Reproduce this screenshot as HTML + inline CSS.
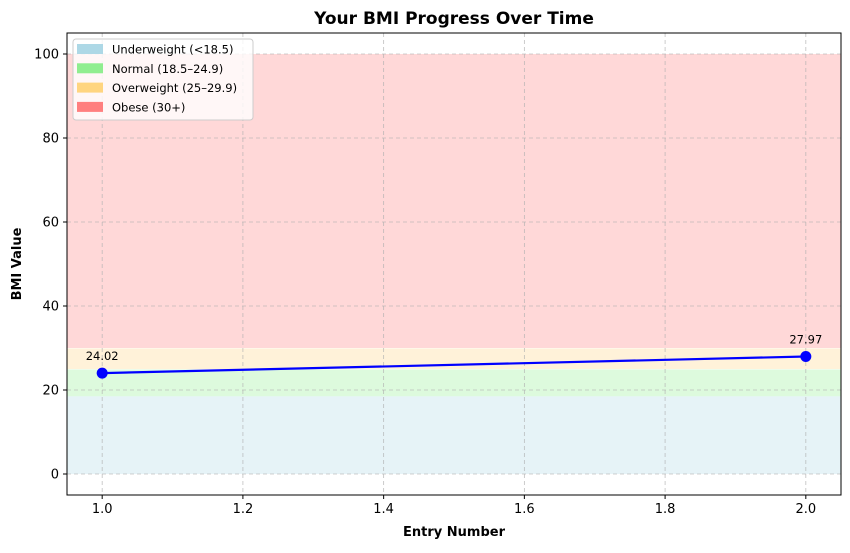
<!DOCTYPE html>
<html><head><meta charset="utf-8"><style>
body{margin:0;background:#fff;font-family:"Liberation Sans","DejaVu Sans",sans-serif}
svg text{font-family:"DejaVu Sans","Liberation Sans",sans-serif}
</style></head><body>
<svg id="c" width="850" height="548" xmlns="http://www.w3.org/2000/svg"></svg>
<script>
const entries=[1,2];
const bmiValues=[24.02,27.97];
const xTicks=[1.0,1.2,1.4,1.6,1.8,2.0];
const yTicks=[0,20,40,60,80,100];
const bandNames=["Underweight (<18.5)","Normal (18.5–24.9)","Overweight (25–29.9)","Obese (30+)"];
const bandLow=[0,18.5,25,30];
const bandHigh=[18.5,24.9,29.9,100];
const bandColors=["#add8e6","#90ee90","#ffd580","#ff7f7f"];
const L=67,R=841,T=33,B=495,x0=0.95,x1=2.05,y0=-5,y1=105;
const X=v=>L+(v-x0)/(x1-x0)*(R-L);
const Y=v=>B-(v-y0)/(y1-y0)*(B-T);
const svg=document.getElementById('c');
const NS="http://www.w3.org/2000/svg";
function mk(t,a,txt){const e=document.createElementNS(NS,t);for(const k in a)e.setAttribute(k,a[k]);if(txt!==undefined)e.textContent=txt;svg.appendChild(e);return e;}
bandNames.forEach((n,i)=>{
 const r=mk('rect',{x:L,y:Y(bandHigh[i]),width:R-L,height:Y(bandLow[i])-Y(bandHigh[i]),fill:bandColors[i],'fill-opacity':0.3});
 
 
});
xTicks.forEach(t=>{
 const g=mk('line',{x1:X(t),x2:X(t),y1:T,y2:B,stroke:'#b0b0b0','stroke-dasharray':'4,3','stroke-width':0.8,'stroke-opacity':0.8});
 
 mk('line',{x1:X(t),x2:X(t),y1:B,y2:B+4,stroke:'#000'});
 const l=mk('text',{x:X(t),y:B+18,'text-anchor':'middle','font-size':13},t.toFixed(1));
 
});
yTicks.forEach(t=>{
 const g=mk('line',{x1:L,x2:R,y1:Y(t),y2:Y(t),stroke:'#b0b0b0','stroke-dasharray':'4,3','stroke-width':0.8,'stroke-opacity':0.8});
 
 mk('line',{x1:L-4,x2:L,y1:Y(t),y2:Y(t),stroke:'#000'});
 const l=mk('text',{x:L-8,y:Y(t)+4.5,'text-anchor':'end','font-size':13},String(t));
 
});
const pl=mk('polyline',{points:entries.map((e,i)=>X(e)+','+Y(bmiValues[i])).join(' '),fill:'none',stroke:'#0000ff','stroke-width':2.2});

entries.forEach((e,i)=>{
 const c=mk('circle',{cx:X(e),cy:Y(bmiValues[i]),r:5.5,fill:'#0000ff'});
 
 const t=mk('text',{x:X(e),y:Y(bmiValues[i])-13,'text-anchor':'middle','font-size':11.5},bmiValues[i].toFixed(2));
 
});
const fr=mk('rect',{x:L,y:T,width:R-L,height:B-T,fill:'none',stroke:'#000','stroke-width':1});

const lg=mk('rect',{x:73,y:39,width:180,height:81,rx:3,fill:'#fff','fill-opacity':0.8,stroke:'#ccc'});

bandNames.forEach((n,i)=>{
 const y=44+i*19.3;
 const s=mk('rect',{x:77,y:y,width:26,height:10,fill:bandColors[i]});
 
 const t=mk('text',{x:112,y:y+9.5,'font-size':11.5},n);
 
});
const ti=mk('text',{x:454,y:24,'text-anchor':'middle','font-size':17,'font-weight':'bold'},'Your BMI Progress Over Time');

const xt=mk('text',{x:454,y:536,'text-anchor':'middle','font-size':13,'font-weight':'bold'},'Entry Number');

const yt=mk('text',{x:21,y:264,'text-anchor':'middle','font-size':13,'font-weight':'bold',transform:'rotate(-90 21 264)'},'BMI Value');

</script>
</body></html>
